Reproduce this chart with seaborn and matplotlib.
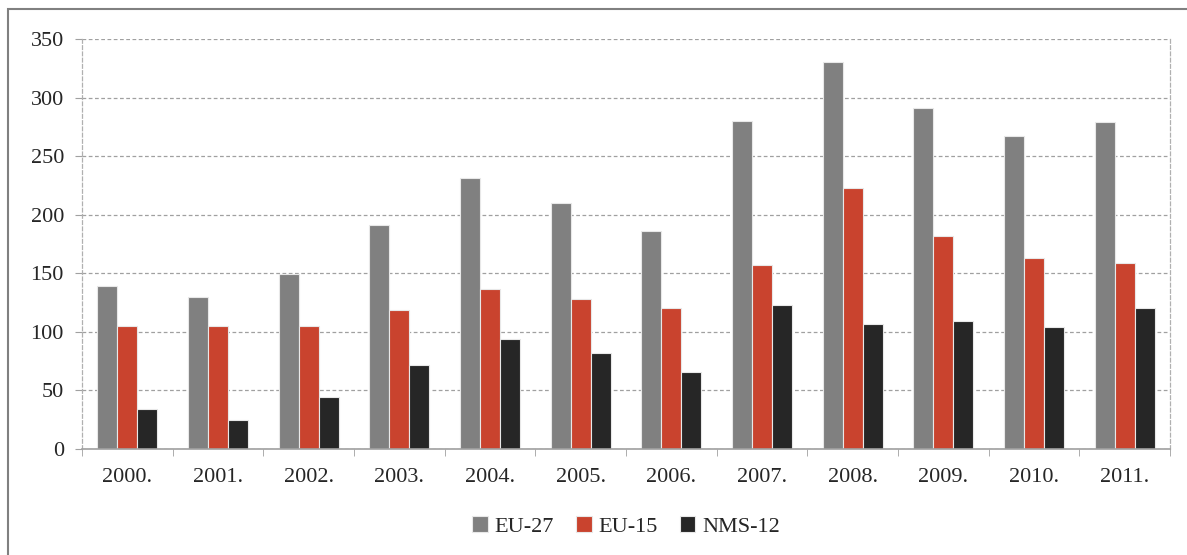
import pandas as pd
import seaborn as sns
import matplotlib.pyplot as plt
from matplotlib.patches import Rectangle
from matplotlib.ticker import MultipleLocator, FixedLocator

# Données
years = ["2000.", "2001.", "2002.", "2003.", "2004.", "2005.",
         "2006.", "2007.", "2008.", "2009.", "2010.", "2011."]
eu27 = [139, 130, 149, 191, 231, 210, 186, 280, 330, 291, 267, 279]
eu15 = [105, 105, 105, 119, 137, 128, 120, 157, 223, 182, 163, 159]
nms12 = [34, 25, 44, 72, 94, 82, 66, 123, 107, 109, 104, 120]
series = ["EU-27", "EU-15", "NMS-12"]
colors = ["#808080", "#C9432E", "#262626"]

df = pd.DataFrame({"Année": years * 3,
                   "Groupe": [s for s in series for _ in years],
                   "Valeur": eu27 + eu15 + nms12})

sns.set_style("white")
plt.rcParams['font.family'] = ['Liberation Serif', 'DejaVu Serif']

fig = plt.figure(figsize=(11.87, 5.55), dpi=100)
ax = fig.add_axes([82 / 1187, 106 / 555, 1088 / 1187, 410 / 555])

sns.barplot(data=df, x="Année", y="Valeur", hue="Groupe", palette=colors,
            saturation=1, width=0.66, edgecolor="#e8e8e8", linewidth=0.8, ax=ax)

ax.set_xlim(-0.5, len(years) - 0.5)
ax.set_ylim(0, 350)
ax.yaxis.set_major_locator(MultipleLocator(50))
ax.yaxis.grid(True, linestyle=(0, (3, 2)), color="#a0a0a0", linewidth=0.9)
ax.set_axisbelow(True)
ax.set_xlabel("")
ax.set_ylabel("")

for side in ["left", "right"]:
    ax.spines[side].set_visible(True)
    ax.spines[side].set_linestyle((0, (3, 2)))
    ax.spines[side].set_color("#b0b0b0")
    ax.spines[side].set_linewidth(0.9)
ax.spines["top"].set_visible(False)
ax.spines["bottom"].set_color("#a0a0a0")
ax.spines["bottom"].set_linewidth(1.2)

ax.tick_params(axis="x", which="major", length=0, pad=14, labelsize=16)
ax.xaxis.set_minor_locator(FixedLocator([i - 0.5 for i in range(len(years) + 1)]))
ax.tick_params(axis="x", which="minor", length=5, color="#a0a0a0", bottom=True)
ax.tick_params(axis="y", length=5, color="#a0a0a0", left=True, pad=8, labelsize=16)

ax.legend(loc="upper center", bbox_to_anchor=(0.5, -0.115), ncol=3, frameon=False,
          fontsize=16, handlelength=0.7, handleheight=0.7, handletextpad=0.3,
          columnspacing=1.0)

fig.patches.append(Rectangle((8 / 1187, -0.05), 1.1, 1 - 9 / 555 + 0.05,
                             transform=fig.transFigure, fill=False,
                             edgecolor="#808080", linewidth=1.5))

fig.savefig("out.png", dpi=100)
